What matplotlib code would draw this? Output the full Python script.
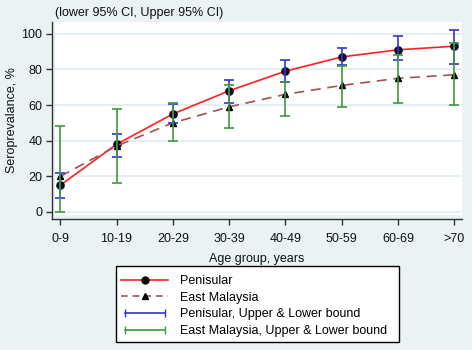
import matplotlib
matplotlib.use("Agg")
import matplotlib.pyplot as plt
from matplotlib.lines import Line2D
from matplotlib.patches import Rectangle
from matplotlib.legend_handler import HandlerLine2D

plt.rcParams['font.family'] = ['Liberation Sans', 'DejaVu Sans']

age_groups = ["0-9", "10-19", "20-29", "30-39", "40-49", "50-59", "60-69", ">70"]
pen = [15, 38, 55, 68, 79, 87, 91, 93]
pen_lo = [8, 31, 50, 61, 73, 82.5, 85, 83]
pen_hi = [22, 44, 60.6, 74, 85, 92, 98.5, 102]
east = [20, 37, 50, 59, 66, 71, 75, 77]
east_lo = [0, 16, 40, 47, 54, 59, 61, 60]
east_hi = [48, 58, 61, 71, 73, 82, 88, 95]

bg = "#eaf2f4"
W, H = 472, 350
fig = plt.figure(figsize=(4.72, 3.5), dpi=100, facecolor=bg)
ax = fig.add_axes([52/W, 1-219/H, 410/W, 197/H])
ax.set_facecolor(bg)
ax.add_patch(Rectangle((0.007, 0.02), 0.993, 0.98, transform=ax.transAxes,
                       facecolor="white", edgecolor="none", zorder=0))

x = list(range(len(age_groups)))
ax.set_xlim(-0.147, 7.137)
ax.set_ylim(-3.93, 106.6)

for yv in [0, 20, 40, 60, 80, 100]:
    ax.axhline(yv, xmin=0.007, color="#e3edf1", lw=1.3, zorder=1)

ax.plot(x, pen, color="#ff2020", lw=1.2, marker="o", ms=5.2,
        mfc="#0a0a20", mec="#0a0a20", zorder=3)
ax.plot(x, east, color="#a55050", lw=1.2, ls=(0, (6, 4)), marker="^", ms=4,
        mfc="black", mec="black", zorder=3)

blue = "#3535cc"
green = "#3c9a3c"
ax.errorbar(x, pen, yerr=[[p - l for p, l in zip(pen, pen_lo)],
                          [h - p for p, h in zip(pen, pen_hi)]],
            fmt="none", ecolor=blue, elinewidth=1.2, capsize=3.3, capthick=1.2, zorder=4)
ax.errorbar(x, east, yerr=[[p - l for p, l in zip(east, east_lo)],
                           [h - p for p, h in zip(east, east_hi)]],
            fmt="none", ecolor=green, elinewidth=1.2, capsize=3.3, capthick=1.2, zorder=5)

ax.set_xticks(x)
ax.set_xticklabels(age_groups)
ax.set_yticks([0, 20, 40, 60, 80, 100])
ax.tick_params(axis="both", direction="out", length=4, width=1, colors="#333333",
               labelsize=9, labelcolor="#111111")
ax.tick_params(axis="x", pad=6)
ax.tick_params(axis="y", pad=3)
for s in ["top", "right"]:
    ax.spines[s].set_visible(False)
for s in ["left", "bottom"]:
    ax.spines[s].set_color("#333333")
    ax.spines[s].set_linewidth(1)

ax.set_xlabel("Age group, years", fontsize=9, color="#111111", labelpad=6)
ax.set_ylabel("Seroprevalance, %", fontsize=9, color="#111111", labelpad=2)

fig.text(55/W, 1-13/H, "(lower 95% CI, Upper 95% CI)", fontsize=9,
         color="#111111", va="center", ha="left")

# legend frame drawn as a figure rectangle
fig.patches.append(Rectangle((116/W, 1-342/H), 283/W, 76/H, transform=fig.transFigure,
                             facecolor="white", edgecolor="black", lw=1, zorder=1))

h1 = Line2D([], [], color="#ff2020", lw=1.2, marker="o", ms=5, mfc="black", mec="black")
h2 = Line2D([], [], color="#a55050", lw=1.2, ls=(0, (4, 3)), marker="^", ms=4, mfc="black", mec="black")
h3 = Line2D([], [], color=blue, lw=1.2, marker="|", ms=6)
h4 = Line2D([], [], color=green, lw=1.2, marker="|", ms=6)
leg = fig.legend([h1, h2, h3, h4],
                 ["Penisular", "East Malaysia", "Penisular, Upper & Lower bound",
                  "East Malaysia, Upper & Lower bound"],
                 loc="upper left", bbox_to_anchor=(121/W, 1-275/H),
                 borderaxespad=0, borderpad=0, fontsize=9, handlelength=3.8, handletextpad=0.9,
                 labelspacing=0.38, frameon=False,
                 handler_map={h3: HandlerLine2D(numpoints=2), h4: HandlerLine2D(numpoints=2)})
leg.set_zorder(2)

fig.savefig("out.png", dpi=100, facecolor=bg)
